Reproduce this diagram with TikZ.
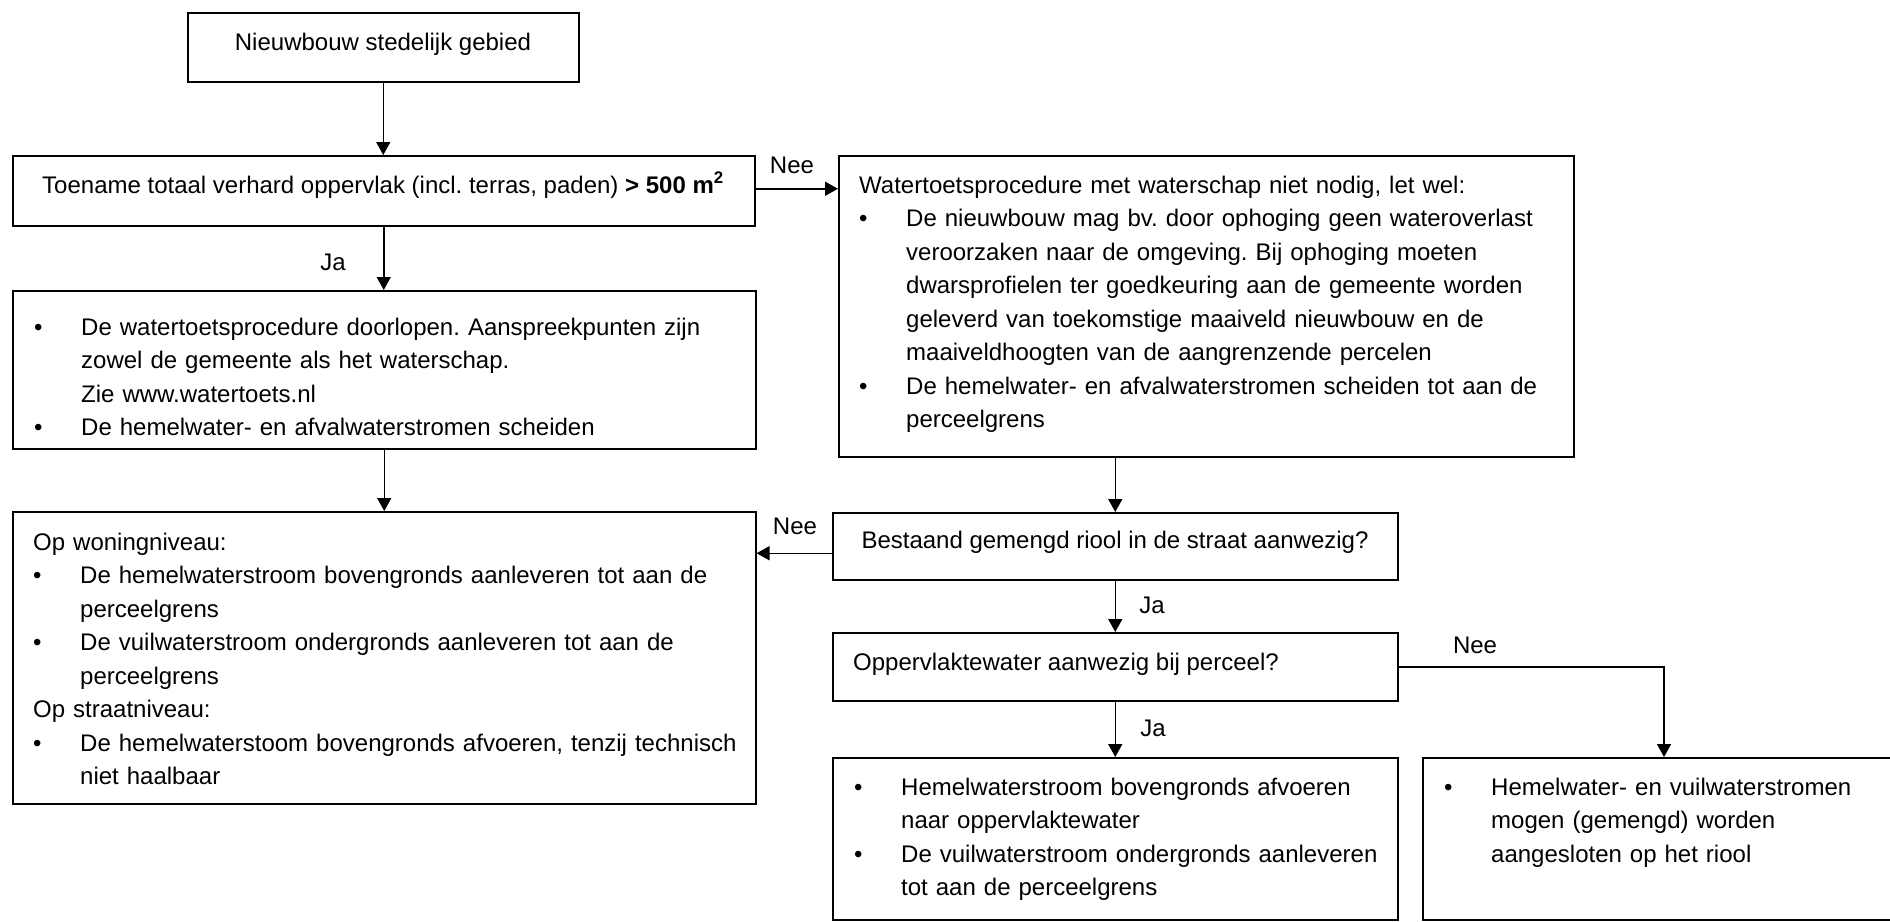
\documentclass[tikz,border=0pt]{standalone}
\usepackage{fontspec}
\setmainfont{Liberation Sans}
\usetikzlibrary{arrows.meta}
\newlength{\bind}
\setlength{\bind}{47pt}
\newcommand{\bitem}[1]{\hangindent=\bind\hangafter=1\noindent\makebox[\bind][l]{\textbullet}#1\par}
\newcommand{\pline}[1]{\noindent #1\par}
\newcommand{\nl}{\newline}
\begin{document}
\begin{tikzpicture}[x=1pt,y=-1pt,
  box/.style={draw, line width=1.5pt, rectangle, inner sep=0pt, anchor=north west},
  txt/.style={inner sep=0pt, font=\fontsize{24}{33.5}\selectfont\frenchspacing},
  mtxt/.style={txt, align=left, text width=#1, anchor=base west},
  lbl/.style={txt, anchor=base},
  arr/.style={-{Triangle[length=13pt,width=14pt]}, line width=1.5pt}]
\useasboundingbox (0,0) rectangle (1890,921);
\fill[white] (0,0) rectangle (1890,921);
% boxes
\node[box, minimum width=391pt, minimum height=69pt] (top) at (187,12) {};
\node[box, minimum width=742pt, minimum height=70pt] (toe) at (12,155) {};
\node[box, minimum width=743pt, minimum height=158pt] (box1) at (12,290) {};
\node[box, minimum width=743pt, minimum height=292pt] (lbox) at (12,511) {};
\node[box, minimum width=735pt, minimum height=301pt] (rbox) at (838,155) {};
\node[box, minimum width=565pt, minimum height=67pt] (best) at (832,512) {};
\node[box, minimum width=565pt, minimum height=68pt] (opp) at (832,632) {};
\node[box, minimum width=565pt, minimum height=162pt] (bmid) at (832,757) {};
\node[box, minimum width=473pt, minimum height=162pt] (brbox) at (1422,757) {};
% texts
\node[lbl] (ttop) at (383,50) {Nieuwbouw stedelijk gebied};
\node[lbl] (ttoe) at (383,193) {Toename totaal verhard oppervlak (incl. terras, paden) \textbf{> 500 m\textsuperscript{2}}};
\node[mtxt=720pt] (tbox1) at (34,335) {\bitem{De watertoetsprocedure doorlopen. Aanspreekpunten zijn\nl zowel de gemeente als het waterschap.\nl Zie www.watertoets.nl}\bitem{De hemelwater- en afvalwaterstromen scheiden}};
\node[mtxt=720pt] (tlbox) at (33,550) {\pline{Op woningniveau:}\bitem{De hemelwaterstroom bovengronds aanleveren tot aan de\nl perceelgrens}\bitem{De vuilwaterstroom ondergronds aanleveren tot aan de\nl perceelgrens}\pline{Op straatniveau:}\bitem{De hemelwaterstoom bovengronds afvoeren, tenzij technisch\nl niet haalbaar}};
\node[mtxt=720pt] (trbox) at (859,193) {\pline{Watertoetsprocedure met waterschap niet nodig, let wel:}\bitem{De nieuwbouw mag bv. door ophoging geen wateroverlast\nl veroorzaken naar de omgeving. Bij ophoging moeten\nl dwarsprofielen ter goedkeuring aan de gemeente worden\nl geleverd van toekomstige maaiveld nieuwbouw en de\nl maaiveldhoogten van de aangrenzende percelen}\bitem{De hemelwater- en afvalwaterstromen scheiden tot aan de\nl perceelgrens}};
\node[lbl] (tbest) at (1115,548) {Bestaand gemengd riool in de straat aanwezig?};
\node[txt, anchor=base west] (topp) at (853,670) {Oppervlaktewater aanwezig bij perceel?};
\node[mtxt=560pt] (tbmid) at (854,795) {\bitem{Hemelwaterstroom bovengronds afvoeren\nl naar oppervlaktewater}\bitem{De vuilwaterstroom ondergronds aanleveren\nl tot aan de perceelgrens}};
\node[mtxt=460pt] (tbr) at (1444,795) {\bitem{Hemelwater- en vuilwaterstromen\nl mogen (gemengd) worden\nl aangesloten op het riool}};
% labels
\node[lbl] (nee1) at (792,173) {Nee};
\node[lbl] (ja1) at (333,270) {Ja};
\node[lbl] (nee2) at (795,534) {Nee};
\node[lbl] (ja2) at (1152,613) {Ja};
\node[lbl] (ja3) at (1153,736) {Ja};
\node[lbl] (nee3) at (1475,653) {Nee};
% connectors
\draw[arr] (top.south) -- (top.south |- toe.north);
\draw[arr] (toe.south) -- (toe.south |- box1.north);
\draw[arr] (box1.south) -- (box1.south |- lbox.north);
\draw[arr] ([yshift=2pt]toe.east) -- ([yshift=2pt]toe.east -| rbox.west);
\draw[arr] (best.north |- rbox.south) -- (best.north);
\draw[arr] ([yshift=-7pt]best.west) -- ([yshift=-7pt]best.west -| lbox.east);
\draw[arr] (best.south) -- (opp.north);
\draw[arr] (opp.south) -- (bmid.north);
\coordinate (n3) at (1664,757);
\draw[arr] (opp.east) -| (n3);
\end{tikzpicture}
\end{document}
